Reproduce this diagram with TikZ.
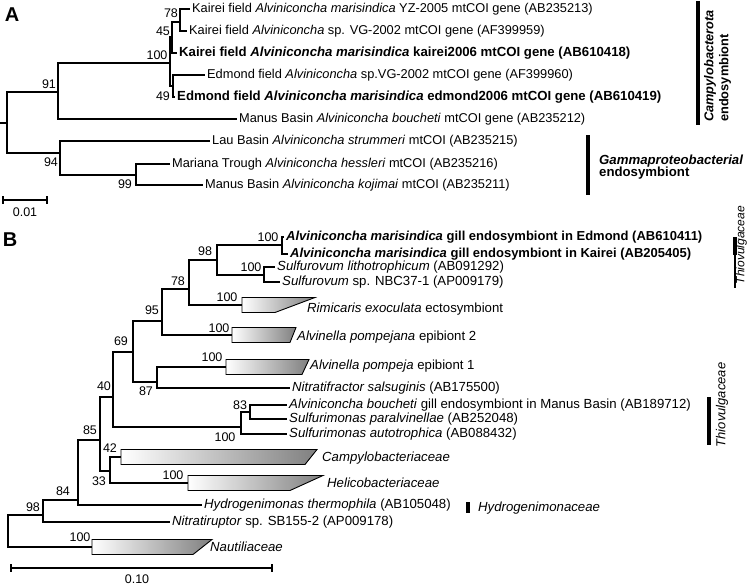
\documentclass[tikz,border=0pt]{standalone}
\usepackage{fontspec}
\setmainfont{Liberation Sans}
\usepackage{tikz}

\tikzset{
  br/.style={line width=1.1pt},
  lfa/.style={anchor=west,inner sep=2pt,font=\fontsize{12.8}{14}\selectfont,text height=9.5pt,text depth=2.7pt},
  lfb/.style={anchor=west,inner sep=2pt,font=\fontsize{13.2}{14}\selectfont,text height=9.6pt,text depth=2.8pt},
  bs/.style={inner sep=0pt,font=\fontsize{12.5}{14}\selectfont},
  clade/.style={left color=white,right color=black!50,draw=black,line width=0.9pt},
  bar/.style={line width=4pt},
}

\begin{document}
\begin{tikzpicture}[x=1pt,y=-1pt]
\useasboundingbox (0,0) rectangle (747,586);

\node[inner sep=0pt,font=\fontsize{20}{20}\selectfont\bfseries] (labA) at (12,15) {A};

\coordinate (a0) at (0,123);
\coordinate (aR) at (7,123);
\coordinate (a91) at (58,92);
\coordinate (a94) at (60,153);
\coordinate (a100) at (170,63);
\coordinate (a45) at (172,37);
\coordinate (a78) at (180,22);
\coordinate (a49) at (173,86);
\coordinate (a99) at (136,175);

\node[lfa] (kai1) at (190,9) {Kairei field \textit{Alviniconcha marisindica} YZ-2005 mtCOI gene (AB235213)};
\node[lfa] (kai2) at (187,31) {Kairei field \textit{Alviniconcha} sp. VG-2002 mtCOI gene (AF399959)};
\node[lfa,font=\fontsize{13.2}{14}\selectfont\bfseries] (kai3) at (177,53) {Kairei field \textit{Alviniconcha marisindica} kairei2006 mtCOI gene (AB610418)};
\node[lfa] (edm1) at (205,75) {Edmond field \textit{Alviniconcha} sp.VG-2002 mtCOI gene (AF399960)};
\node[lfa,font=\fontsize{13.2}{14}\selectfont\bfseries] (edm2) at (175,97) {Edmond field \textit{Alviniconcha marisindica} edmond2006 mtCOI gene (AB610419)};
\node[lfa] (man1) at (237,119) {Manus Basin \textit{Alviniconcha boucheti} mtCOI gene (AB235212)};
\node[lfa] (lau) at (210,141) {Lau Basin \textit{Alviniconcha strummeri} mtCOI (AB235215)};
\node[lfa] (mar) at (170,164) {Mariana Trough \textit{Alviniconcha hessleri} mtCOI (AB235216)};
\node[lfa] (man2) at (203,185) {Manus Basin \textit{Alviniconcha kojimai} mtCOI (AB235211)};

\draw[br] (a0) -- (aR);
\draw[br] (aR) |- (a91);
\draw[br] (aR) |- (a94);
\draw[br] (a91) |- (a100);
\draw[br] (a91) |- (man1);
\draw[br] (a100) |- (a45);
\draw[br] (a100) |- (a49);
\draw[br] (a45) |- (a78);
\draw[br] (a45) |- (kai3);
\draw[br] (a78) |- (kai1);
\draw[br] (a78) |- (kai2);
\draw[br] (a49) |- (edm1);
\draw[br] (a49) |- (edm2);
\draw[br] (a94) |- (lau);
\draw[br] (a94) |- (a99);
\draw[br] (a99) |- (mar);
\draw[br] (a99) |- (man2);

\node[bs] (bv78) at (171,13) {78};
\node[bs] (bv45) at (163,31) {45};
\node[bs] (bv100) at (157,55) {100};
\node[bs] (bv49) at (163,96) {49};
\node[bs] (bv91) at (49,84) {91};
\node[bs] (bv94) at (51,162) {94};
\node[bs] (bv99) at (125,184) {99};

\draw[br] (3,200) -- (47,200);
\draw[br] (3,196) -- (3,204);
\draw[br] (47,196) -- (47,204);
\node[bs] (sclA) at (25,212) {0.01};

\draw[bar] (698,1) -- (698,125);
\node[rotate=90,anchor=north west,align=left,inner sep=0pt,font=\fontsize{12.8}{15}\selectfont\bfseries] (campyT) at (704,122) {\textit{Campylobacterota}\\endosymbiont};
\draw[bar] (588,135) -- (588,195);
\node[anchor=west,align=left,inner sep=0pt,font=\fontsize{13.2}{12.5}\selectfont\bfseries] (gamT) at (599,167) {\textit{Gammaproteobacterial}\\endosymbiont};

\node[inner sep=0pt,font=\fontsize{20}{20}\selectfont\bfseries] (labB) at (10,240) {B};

\coordinate (bE) at (282,245);
\coordinate (b98) at (217,260);
\coordinate (bSv) at (264,275);
\coordinate (b78) at (189,289);
\coordinate (cRim) at (242,305);
\coordinate (b95) at (162,321);
\coordinate (cPja) at (232,335);
\coordinate (b69) at (133,352);
\coordinate (b87) at (157,382);
\coordinate (cPea) at (226,367);
\coordinate (b40) at (113,397);
\coordinate (bSm) at (241,427);
\coordinate (b83) at (250,412);
\coordinate (b85) at (100,440);
\coordinate (b33) at (110,471);
\coordinate (cCam) at (121,457);
\coordinate (cHel) at (188,483);
\coordinate (b84) at (78,500);
\coordinate (b98r) at (43,515);
\coordinate (bR) at (8,532);
\coordinate (cNau) at (92,547);

\node[lfb,font=\fontsize{13}{14}\selectfont\bfseries] (edmB) at (284,237) {\textit{Alviniconcha marisindica} gill endosymbiont in Edmond (AB610411)};
\node[lfb,font=\fontsize{13}{14}\selectfont\bfseries] (kaiB) at (288,254) {\textit{Alviniconcha marisindica} gill endosymbiont in Kairei (AB205405)};
\node[lfb] (sv1) at (275,267) {\textit{Sulfurovum lithotrophicum} (AB091292)};
\node[lfb] (sv2) at (280,282) {\textit{Sulfurovum} sp. NBC37-1 (AP009179)};
\node[lfb] (rimT) at (305,309) {\textit{Rimicaris exoculata} ectosymbiont};
\node[lfb] (pjaT) at (295,337) {\textit{Alvinella pompejana} epibiont 2};
\node[lfb] (peaT) at (308,366) {\textit{Alvinella pompeja} epibiont 1};
\node[lfb] (nitra) at (290,388) {\textit{Nitratifractor salsuginis} (AB175500)};
\node[lfb] (bou) at (287,405) {\textit{Alviniconcha boucheti} gill endosymbiont in Manus Basin (AB189712)};
\node[lfb] (par) at (287,419) {\textit{Sulfurimonas paralvinellae} (AB252048)};
\node[lfb] (aut) at (287,434) {\textit{Sulfurimonas autotrophica} (AB088432)};
\node[lfb] (camT) at (320,458) {\textit{Campylobacteriaceae}};
\node[lfb] (helT) at (325,484) {\textit{Helicobacteriaceae}};
\node[lfb] (hydro) at (202,505) {\textit{Hydrogenimonas thermophila} (AB105048)};
\node[lfb] (nitru) at (170,522) {\textit{Nitratiruptor} sp. SB155-2 (AP009178)};
\node[lfb] (nauT) at (208,548) {\textit{Nautiliaceae}};

\draw[clade] (cRim) ++(0,-7.5) -- ++(73,0) -- ++(-40,15) -- ++(-33,0) -- cycle;
\draw[clade] (cPja) ++(0,-7.5) -- ++(64,0) -- ++(-6,15) -- ++(-58,0) -- cycle;
\draw[clade] (cPea) ++(0,-7.5) -- ++(83,0) -- ++(-7,15) -- ++(-76,0) -- cycle;
\draw[clade] (cCam) ++(0,-7.5) -- ++(196,0) -- ++(-12,15) -- ++(-184,0) -- cycle;
\draw[clade] (cHel) ++(0,-7.5) -- ++(135,0) -- ++(-33,15) -- ++(-102,0) -- cycle;
\draw[clade] (cNau) ++(0,-7.5) -- ++(120,0) -- ++(-19,15) -- ++(-101,0) -- cycle;

\draw[br] (bE) |- (edmB);
\draw[br] (bE) |- (kaiB);
\draw[br] (b98) |- (bE);
\draw[br] (b98) |- (bSv);
\draw[br] (bSv) |- (sv1);
\draw[br] (bSv) |- (sv2);
\draw[br] (b78) |- (b98);
\draw[br] (b78) |- (cRim);
\draw[br] (b95) |- (b78);
\draw[br] (b95) |- (cPja);
\draw[br] (b69) |- (b95);
\draw[br] (b69) |- (b87);
\draw[br] (b87) |- (cPea);
\draw[br] (b87) |- (nitra);
\draw[br] (b40) |- (b69);
\draw[br] (b40) |- (bSm);
\draw[br] (bSm) |- (b83);
\draw[br] (bSm) |- (aut);
\draw[br] (b83) |- (bou);
\draw[br] (b83) |- (par);
\draw[br] (b85) |- (b40);
\draw[br] (b85) |- (b33);
\draw[br] (b33) |- (cCam);
\draw[br] (b33) |- (cHel);
\draw[br] (b84) |- (b85);
\draw[br] (b84) |- (hydro);
\draw[br] (b98r) |- (b84);
\draw[br] (b98r) |- (nitru);
\draw[br] (bR) |- (b98r);
\draw[br] (bR) |- (cNau);

\node[bs] (bvE) at (268,237) {100};
\node[bs] (bvB98) at (205,251) {98};
\node[bs] (bvSv) at (251,267) {100};
\node[bs] (bvB78) at (178,281) {78};
\node[bs] (bvRim) at (227,297) {100};
\node[bs] (bv95) at (152,310) {95};
\node[bs] (bvPja) at (219,328) {100};
\node[bs] (bv69) at (121,341) {69};
\node[bs] (bvPea) at (212,357) {100};
\node[bs] (bv87) at (146,391) {87};
\node[bs] (bv40) at (104,386) {40};
\node[bs] (bv83) at (240,405) {83};
\node[bs] (bvSm) at (225,437) {100};
\node[bs] (bv85) at (90,430) {85};
\node[bs] (bv42) at (110,448) {42};
\node[bs] (bv33) at (99,481) {33};
\node[bs] (bvHel) at (173,475) {100};
\node[bs] (bv84) at (63,491) {84};
\node[bs] (bvR98) at (33,507) {98};
\node[bs] (bvNau) at (80,537) {100};

\draw[br] (11,568) -- (272,568);
\draw[br] (11,564) -- (11,572);
\draw[br] (272,564) -- (272,572);
\node[bs] (sclB) at (137,579) {0.10};

\draw[line width=1.2pt] (735,237) -- (735,288);
\draw[bar] (735,237) -- (735,255);
\node[rotate=90,inner sep=0pt,font=\fontsize{12}{13}\selectfont\itshape] (thioT1) at (741.3,245) {Thiovulgaceae};
\draw[bar] (709,397) -- (709,445);
\node[rotate=90,inner sep=0pt,font=\fontsize{13}{13}\selectfont\itshape] (thioT2) at (722,405) {Thiovulgaceae};
\draw[bar] (468,502) -- (468,513);
\node[anchor=west,inner sep=0pt,font=\fontsize{13.2}{13}\selectfont\itshape] (hydT) at (478,508) {Hydrogenimonaceae};
\end{tikzpicture}
\end{document}
